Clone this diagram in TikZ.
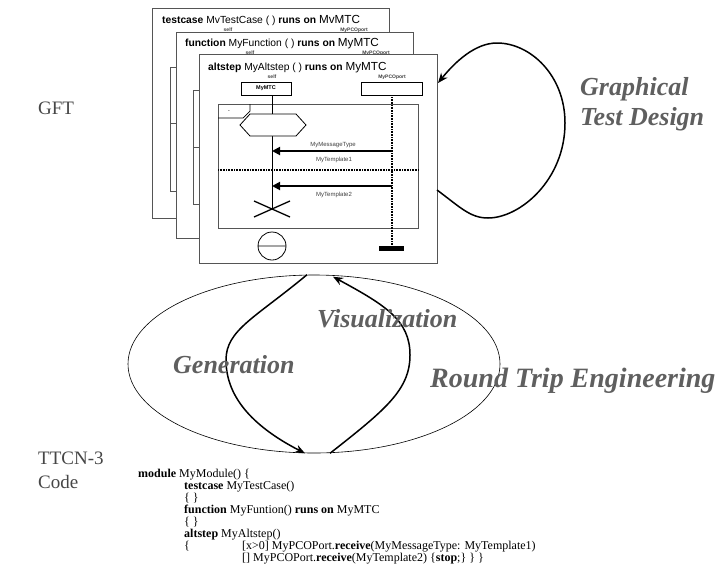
\documentclass[tikz,border=0pt]{standalone}
\usepackage{fontspec}
\setmainfont{Liberation Serif}
\newfontfamily\gftsans{Liberation Sans}
\usetikzlibrary{arrows.meta,shapes.geometric}
\definecolor{lblgray}{RGB}{95,95,95}
\definecolor{txtgray}{RGB}{70,70,70}
\definecolor{frmgray}{RGB}{85,85,85}

\begin{document}
\begin{tikzpicture}[x=1pt,y=-1pt,
		frm/.style={draw=frmgray,fill=white,line width=.9pt},
		ttl/.style={anchor=base west,inner sep=0pt,font=\gftsans\fontsize{10.3}{10}\selectfont},
		tiny/.style={inner sep=0pt,font=\gftsans\bfseries\fontsize{5}{5}\selectfont,text=black!75},
		msg/.style={line width=1.8pt,-{Triangle[length=8pt,width=8pt]}},
		life/.style={line width=1.4pt,dash pattern=on 1pt off .6pt},
		flow/.style={line width=1.5pt,-{Stealth[length=10pt,width=8pt]}},
		big/.style={anchor=base west,inner sep=0pt,text=txtgray,font=\fontsize{19}{19}\selectfont},
		act/.style={inner sep=0pt,text=lblgray,font=\bfseries\itshape\fontsize{26}{30}\selectfont}]
		\useasboundingbox (0,0) rectangle (727,587);
		\node[big] (gft) at (38,114) {GFT};
		\node[big] (ttcn) at (38,464) {TTCN-3};
		\node[big] (code) at (38,488) {Code};
		% testcase
		\draw[frm] (152,8) rectangle (389,218);
		\node[ttl] (tcttl) at (162,23) {\textbf{testcase} MvTestCase ( ) \textbf{runs on} {\fontsize{11.7}{11}\selectfont MvMTC}};
		\node[tiny] (tcself) at (228,30) {self};
		\node[tiny] (tcpco) at (354,30) {MyPCOport};
		\draw[frmgray,line width=.8pt] (170,67) rectangle (185,191) (170,123) -- (185,123);
		% function
		\draw[frm] (176,32) rectangle (413,238);
		\node[ttl] (fnttl) at (185,46) {\textbf{function} MyFunction ( ) \textbf{runs on} {\fontsize{11.7}{11}\selectfont MyMTC}};
		\node[tiny] (fnself) at (250,53) {self};
		\node[tiny] (fnpco) at (376,53) {MyPCOport};
		\draw[frmgray,line width=.8pt] (193,90) rectangle (208,204) (193,147) -- (208,147);
		% altstep
		\node[frm,anchor=north west,minimum width=238,minimum height=209,inner sep=0pt] (altfrm) at (199,54) {};
		\node[ttl] (alttl) at (208,70) {\textbf{altstep} MyAltstep ( ) \textbf{runs on} {\fontsize{11.7}{11}\selectfont MyMTC}};
		\node[tiny] (altself) at (272,77) {self};
		\node[tiny] (altpco) at (392,77) {MyPCOport};
		\node[draw,line width=.8pt,minimum width=50,minimum height=13,inner sep=0pt,font=\gftsans\bfseries\fontsize{5.5}{5}\selectfont] (mtc) at (266,88.5) {MyMTC};
		\node[draw,line width=.8pt,minimum width=61,minimum height=13,inner sep=0pt] (pco) at (391.5,88.5) {};
		\draw[frmgray,line width=.9pt] (218,104) rectangle (418,228);
		\draw[line width=.7pt] (218,118) -- (243,118) -- (250,111) -- (250,104);
		\node[tiny] (alttag) at (229,112) {-};
		\coordinate (pcoend) at (392,247);
		\coordinate (mtcend) at (272,209);
		\draw[line width=.8pt] (mtc.south -| mtcend) -- (mtcend);
		\draw[life] (pco.south -| pcoend) -- (pcoend);
		\fill (379,246) rectangle (404,251);
		\draw[line width=.8pt,fill=white] (240,125) -- (250,114) -- (296,114) -- (306,125) -- (296,136) -- (250,136) -- cycle;
		\draw[life] (218,170) -- (419,170);
		\coordinate (rcv1) at (272,151);
		\coordinate (rcv2) at (272,186);
		\draw[msg] (rcv1 -| pcoend) -- (rcv1);
		\draw[msg] (rcv2 -| pcoend) -- (rcv2);
		\node[tiny,font=\gftsans\fontsize{6}{6}\selectfont] (mtype) at (333,145) {MyMessageType};
		\node[tiny,font=\gftsans\fontsize{6}{6}\selectfont] (tpl1) at (334,160) {MyTemplate1};
		\node[tiny,font=\gftsans\fontsize{6}{6}\selectfont] (tpl2) at (334,195) {MyTemplate2};
		\draw[line width=1.3pt] (254,201) -- (290,217) (254,217) -- (290,201);
		\draw[line width=.8pt] (272,246) circle (14) (258,246) -- (286,246);
		% loop
		\coordinate (loopout) at (437,190);
		\coordinate (loopin) at (438,83);
		\draw[flow] (loopout) .. controls (460,207) and (470,218) .. (488,218)
			.. controls (520,218) and (565,180) .. (565,123)
			.. controls (565,75) and (530,43) .. (497,43)
			.. controls (475,43) and (455,62) .. (loopin);
		\node[act,anchor=base west] (gtd) at (580,95) {Graphical};
		\node[act,anchor=base west] (gtd2) at (580,125) {Test Design};
		% round trip
		\node[draw,ellipse,line width=.6pt,minimum width=372,minimum height=178,inner sep=0pt] (trip) at (314,364) {};
		\draw[flow] ([xshift=-7pt]trip.north) .. controls (255,318) and (226,330) .. (226,360)
			.. controls (226,395) and (250,425) .. ([xshift=-9pt]trip.south);
		\draw[flow] ([xshift=16pt]trip.south) .. controls (385,410) and (410,390) .. (410,355)
			.. controls (410,320) and (385,305) .. ([xshift=19pt,yshift=-2pt]trip.north);
		\node[act,anchor=base west] (gen) at (173,373) {Generation};
		\node[act,anchor=base west] (vis) at (317,327) {Visualization};
		\node[act,anchor=base west,font=\bfseries\itshape\fontsize{28}{30}\selectfont] (rte) at (430,387) {Round Trip Engineering};
		% code
		\node[anchor=north west,align=left,inner sep=0pt,font=\fontsize{12}{12}\selectfont] (ttcncode) at (138,469) {%
			\textbf{module} MyModule() \{\\
			\hspace*{46pt}\textbf{testcase} MyTestCase()\\
			\hspace*{46pt}\{ \}\\
			\hspace*{46pt}\textbf{function} MyFuntion() \textbf{runs on} MyMTC\\
			\hspace*{46pt}\{ \}\\
			\hspace*{46pt}\textbf{altstep} MyAltstep()\\
			\hspace*{46pt}\makebox[58pt][l]{\{}[x>0] MyPCOPort.\textbf{receive}(MyMessageType: MyTemplate1)\\
			\hspace*{104pt}[] MyPCOPort.\textbf{receive}(MyTemplate2) \{\textbf{stop};\} \} \}};
	\end{tikzpicture}
\end{document}
